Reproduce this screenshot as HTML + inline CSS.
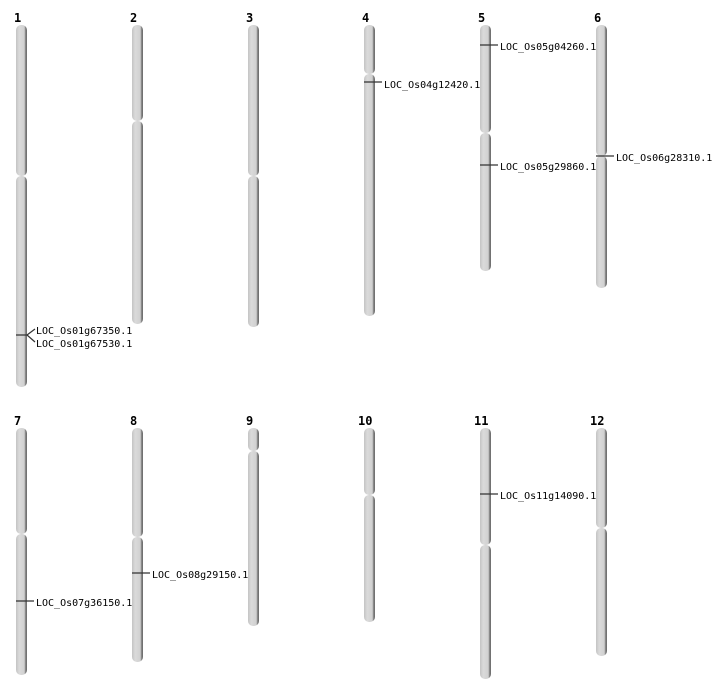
<!DOCTYPE html>
<html><head><meta charset="utf-8"><style>body{margin:0;background:#fff}svg{display:block}</style></head><body>
<svg width="712" height="700" xmlns="http://www.w3.org/2000/svg">
<defs>
<linearGradient id="g" x1="0" x2="1" y1="0" y2="0">
<stop offset="0" stop-color="#c4c4c4"/><stop offset="0.3" stop-color="#dadada"/><stop offset="0.75" stop-color="#d0d0d0"/><stop offset="0.85" stop-color="#8a8a8a"/><stop offset="1" stop-color="#666"/>
</linearGradient>
</defs>
<g font-family="'DejaVu Sans Mono','Liberation Mono',monospace" font-size="12" font-weight="bold" fill="#000">
<text x="14" y="22">1</text><text x="130" y="22">2</text><text x="246" y="22">3</text><text x="362" y="22">4</text><text x="478" y="22">5</text><text x="594" y="22">6</text>
<text x="14" y="425">7</text><text x="130" y="425">8</text><text x="246" y="425">9</text><text x="358" y="425">10</text><text x="474" y="425">11</text><text x="590" y="425">12</text>
</g>
<g fill="url(#g)">
<rect x="16" y="25" width="11" height="151" rx="5"/><rect x="16" y="176" width="11" height="211" rx="5"/>
<rect x="132" y="25" width="11" height="96" rx="5"/><rect x="132" y="121" width="11" height="203" rx="5"/>
<rect x="248" y="25" width="11" height="151" rx="5"/><rect x="248" y="176" width="11" height="151" rx="5"/>
<rect x="364" y="25" width="11" height="49" rx="5"/><rect x="364" y="74" width="11" height="242" rx="5"/>
<rect x="480" y="25" width="11" height="108" rx="5"/><rect x="480" y="133" width="11" height="138" rx="5"/>
<rect x="596" y="25" width="11" height="131" rx="5"/><rect x="596" y="156" width="11" height="132" rx="5"/>
<rect x="16" y="428" width="11" height="106" rx="5"/><rect x="16" y="534" width="11" height="141" rx="5"/>
<rect x="132" y="428" width="11" height="109" rx="5"/><rect x="132" y="537" width="11" height="125" rx="5"/>
<rect x="248" y="428" width="11" height="23" rx="5"/><rect x="248" y="451" width="11" height="175" rx="5"/>
<rect x="364" y="428" width="11" height="67" rx="5"/><rect x="364" y="495" width="11" height="127" rx="5"/>
<rect x="480" y="428" width="11" height="117" rx="5"/><rect x="480" y="545" width="11" height="134" rx="5"/>
<rect x="596" y="428" width="11" height="100" rx="5"/><rect x="596" y="528" width="11" height="128" rx="5"/>
</g>
<g stroke="#333" stroke-width="1.2" fill="none">
<path d="M16 335H27L35 329M27 335L35 342"/>
<path d="M364 82H382"/><path d="M480 45H498"/><path d="M480 165H498"/><path d="M596 156H614"/>
<path d="M16 601H34"/><path d="M132 573H150"/><path d="M480 494H498"/>
</g>
<g font-family="'DejaVu Sans Mono','Liberation Mono',monospace" font-size="10" fill="#000">
<text x="36" y="334">LOC_Os01g67350.1</text><text x="36" y="347">LOC_Os01g67530.1</text>
<text x="384" y="88">LOC_Os04g12420.1</text>
<text x="500" y="50">LOC_Os05g04260.1</text>
<text x="500" y="170">LOC_Os05g29860.1</text>
<text x="616" y="161">LOC_Os06g28310.1</text>
<text x="36" y="606">LOC_Os07g36150.1</text>
<text x="152" y="578">LOC_Os08g29150.1</text>
<text x="500" y="499">LOC_Os11g14090.1</text>
</g>
</svg>
</body></html>
